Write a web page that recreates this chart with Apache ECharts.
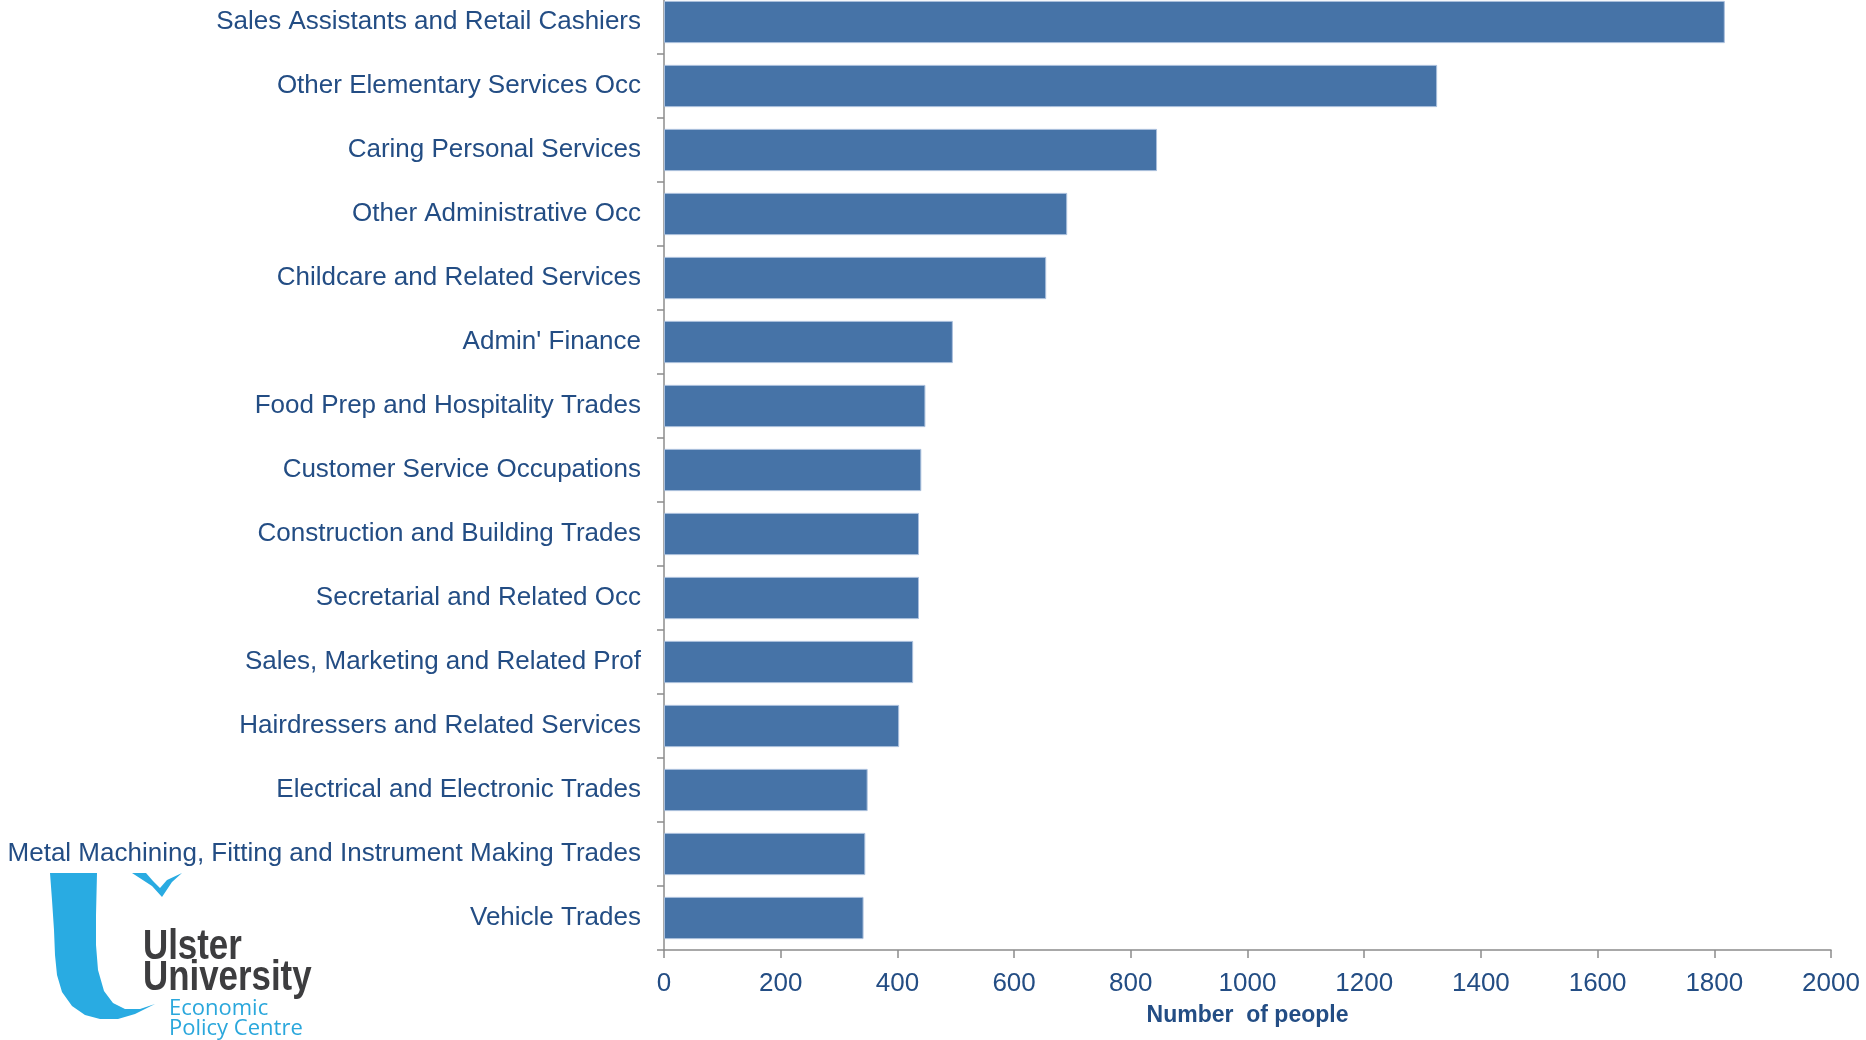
<!DOCTYPE html>
<html>
<head>
<meta charset="utf-8">
<script src="https://cdn.jsdelivr.net/npm/echarts@6/dist/echarts.min.js"></script>
<style>
html,body{margin:0;padding:0;background:#fff;}
#chart{width:1866px;height:1040px;}
</style>
</head>
<body>
<div id="chart"></div>
<script>
const categories = [
  "Sales Assistants and Retail Cashiers",
  "Other Elementary Services Occ",
  "Caring Personal Services",
  "Other Administrative Occ",
  "Childcare and Related Services",
  "Admin' Finance",
  "Food Prep and Hospitality Trades",
  "Customer Service Occupations",
  "Construction and Building Trades",
  "Secretarial and Related Occ",
  "Sales, Marketing and Related Prof",
  "Hairdressers and Related Services",
  "Electrical and Electronic Trades",
  "Metal Machining, Fitting and Instrument Making Trades",
  "Vehicle Trades"
];
const values = [1818, 1325, 845, 691, 655, 495, 448, 441, 437, 437, 427, 403, 349, 345, 342];
const xTicks = [0, 200, 400, 600, 800, 1000, 1200, 1400, 1600, 1800, 2000];
const xAxisName = "Number  of people";

const chart = echarts.init(document.getElementById('chart'));
const labelColor = '#234d84';
const font = "'Liberation Sans', Arial, sans-serif";

const uShape = [[50,873],[52,900],[54,930],[55,955],[57,975],[62,992],[72,1006],[85,1015],[100,1019],[118,1019],[135,1014],[155,1004],
  [140,1009],[125,1009],[113,1003],[104,991],[98,970],[96,945],[96,915],[97,873]];
const bird = [[132,873],[146,873],[153,881],[160,888],[167,880],[182,873],[172,882],[162,897],[152,886]];

chart.setOption({
  animation: false,
  backgroundColor: '#ffffff',
  grid: { left: 664, right: 35, top: -10, bottom: 90, containLabel: false, outerBoundsMode: 'none' },
  xAxis: {
    type: 'value',
    min: xTicks[0], max: xTicks[xTicks.length - 1], interval: xTicks[1] - xTicks[0],
    name: xAxisName, nameLocation: 'middle', nameGap: 54,
    nameTextStyle: { color: labelColor, fontSize: 23, fontWeight: 'bold', fontFamily: font },
    axisLine: { show: true, lineStyle: { color: '#8c8c8c', width: 1.5 } },
    axisTick: { show: true, length: 8, lineStyle: { color: '#8c8c8c', width: 1.5 } },
    axisLabel: { color: labelColor, fontSize: 26, fontFamily: font, margin: 21, formatter: v => String(v) },
    splitLine: { show: false }
  },
  yAxis: {
    type: 'category', data: categories, inverse: true,
    axisLine: { show: true, lineStyle: { color: '#8c8c8c', width: 1.5 } },
    axisTick: { show: true, length: 7, lineStyle: { color: '#8c8c8c', width: 1.5 } },
    axisLabel: { color: labelColor, fontSize: 26, fontFamily: font, margin: 23, padding: [6, 0, 0, 0] },
    splitLine: { show: false }
  },
  series: [{
    type: 'bar', data: values, barCategoryGap: '34%',
    itemStyle: { color: '#4673a7', borderColor: '#a9bfdc', borderWidth: 1 }
  }],
  graphic: [
    { type: 'polygon', z: 100, shape: { points: uShape }, style: { fill: '#29abe2' } },
    { type: 'polygon', z: 100, shape: { points: bird }, style: { fill: '#29abe2' } },
    { type: 'text', z: 100, x: 143, y: 926, scaleX: 0.83, style: { text: 'Ulster', fill: '#3d3d3f', font: "bold 42px 'Liberation Sans', sans-serif" } },
    { type: 'text', z: 100, x: 143, y: 957, scaleX: 0.83, style: { text: 'University', fill: '#3d3d3f', font: "bold 42px 'Liberation Sans', sans-serif" } },
    { type: 'text', z: 100, x: 169, y: 998, style: { text: 'Economic', fill: '#2aa7dc', font: "500 22px 'Open Sans', sans-serif" } },
    { type: 'text', z: 100, x: 169, y: 1018, style: { text: 'Policy Centre', fill: '#2aa7dc', font: "500 22px 'Open Sans', sans-serif" } }
  ]
});
</script>
</body>
</html>
